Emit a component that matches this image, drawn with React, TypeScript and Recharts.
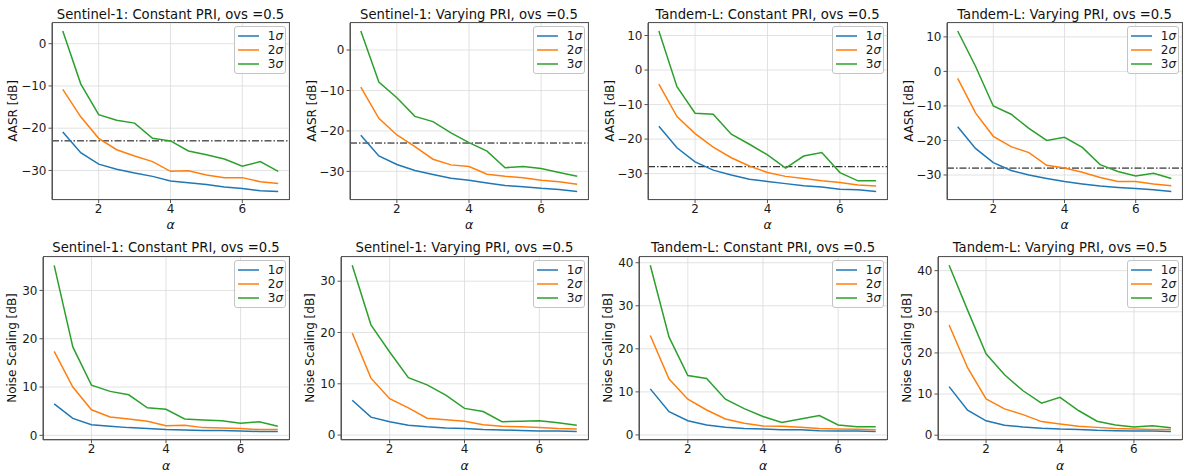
import {
    LineChart,
    Line,
    XAxis,
    YAxis,
    CartesianGrid,
    ReferenceLine,
    Legend,
} from "recharts";

const ALPHA = [1, 1.5, 2, 2.5, 3, 3.5, 4, 4.5, 5, 5.5, 6, 6.5, 7];
const X_TICKS = [2, 4, 6];
const SIGMA_LABELS = ["1σ", "2σ", "3σ"];

// AASR [dB]
const S1_CONST_AASR_1 = [-20.9, -25.8, -28.5, -29.7, -30.6, -31.4, -32.5, -32.9, -33.3, -33.9, -34.3, -34.8, -35.0];
const S1_CONST_AASR_2 = [-10.8, -17.3, -22.4, -25.1, -26.6, -27.9, -30.2, -30.1, -31.1, -31.7, -31.7, -32.7, -33.1];
const S1_CONST_AASR_3 = [3.0, -9.5, -16.8, -18.1, -18.8, -22.4, -23.0, -25.4, -26.3, -27.3, -29.0, -27.9, -30.2];

const S1_VAR_AASR_1 = [-21.1, -26.2, -28.3, -29.8, -30.8, -31.7, -32.2, -32.9, -33.5, -33.8, -34.2, -34.5, -35.0];
const S1_VAR_AASR_2 = [-9.2, -16.9, -21.0, -23.9, -27.0, -28.4, -28.8, -30.7, -31.2, -31.6, -32.2, -32.6, -33.2];
const S1_VAR_AASR_3 = [4.7, -7.9, -11.8, -16.4, -17.7, -20.5, -22.9, -25.0, -29.1, -28.8, -29.3, -30.3, -31.2];

const TL_CONST_AASR_1 = [-16.3, -22.5, -26.6, -29.0, -30.4, -31.6, -32.3, -32.9, -33.5, -33.9, -34.5, -34.7, -35.2];
const TL_CONST_AASR_2 = [-4.1, -13.5, -18.4, -22.3, -25.4, -27.8, -29.7, -30.8, -31.4, -32.1, -32.6, -33.3, -33.6];
const TL_CONST_AASR_3 = [11.3, -4.8, -12.5, -12.8, -18.6, -21.5, -24.6, -28.4, -24.9, -23.9, -29.7, -32.1, -32.1];

const TL_VAR_AASR_1 = [-16.0, -22.3, -26.4, -28.7, -30.0, -31.0, -31.9, -32.6, -33.2, -33.6, -33.9, -34.3, -34.8];
const TL_VAR_AASR_2 = [-2.0, -12.0, -18.8, -21.8, -23.5, -27.2, -28.0, -29.2, -30.7, -31.9, -31.9, -32.6, -33.1];
const TL_VAR_AASR_3 = [11.7, 1.5, -10.0, -12.4, -16.5, -20.0, -19.1, -22.0, -27.0, -29.0, -30.3, -29.5, -31.0];

// Noise scaling [dB]
const S1_CONST_NS_1 = [6.5, 3.5, 2.2, 1.9, 1.6, 1.4, 1.2, 1.1, 1.0, 1.0, 0.9, 0.8, 0.8];
const S1_CONST_NS_2 = [17.4, 10.0, 5.3, 3.8, 3.4, 2.9, 2.0, 2.1, 1.6, 1.5, 1.4, 1.2, 1.2];
const S1_CONST_NS_3 = [35.2, 18.3, 10.4, 9.1, 8.4, 5.7, 5.4, 3.4, 3.2, 3.0, 2.5, 2.8, 1.9];

const S1_VAR_NS_1 = [6.8, 3.5, 2.6, 1.9, 1.6, 1.4, 1.3, 1.1, 1.0, 0.9, 0.8, 0.8, 0.7];
const S1_VAR_NS_2 = [19.9, 11.1, 7.1, 5.3, 3.3, 3.0, 2.7, 2.0, 1.7, 1.6, 1.5, 1.3, 1.2];
const S1_VAR_NS_3 = [33.1, 21.5, 16.2, 11.2, 9.8, 7.8, 5.2, 4.6, 2.6, 2.7, 2.8, 2.4, 1.9];

const TL_CONST_NS_1 = [10.7, 5.4, 3.3, 2.3, 1.8, 1.5, 1.4, 1.2, 1.2, 1.0, 0.9, 0.9, 0.8];
const TL_CONST_NS_2 = [23.1, 13.0, 8.3, 5.8, 3.7, 2.7, 2.1, 2.0, 1.8, 1.5, 1.4, 1.3, 1.2];
const TL_CONST_NS_3 = [39.4, 22.7, 13.8, 13.1, 8.3, 6.1, 4.3, 2.9, 3.7, 4.5, 2.3, 1.9, 1.9];

const TL_VAR_NS_1 = [11.8, 6.1, 3.5, 2.4, 2.0, 1.7, 1.5, 1.4, 1.2, 1.1, 1.0, 1.0, 0.9];
const TL_VAR_NS_2 = [26.8, 16.4, 8.8, 6.4, 5.0, 3.3, 2.7, 2.2, 1.9, 1.6, 1.5, 1.4, 1.4];
const TL_VAR_NS_3 = [41.3, 30.4, 19.8, 14.7, 10.8, 7.8, 9.2, 6.0, 3.4, 2.5, 2.0, 2.3, 1.8];

const S1_AASR_TICKS = [-30, -20, -10, 0];
const TL_AASR_TICKS = [-30, -20, -10, 0, 10];
const S1_NS_TICKS = [0, 10, 20, 30];
const TL_NS_TICKS = [0, 10, 20, 30, 40];

const S1_THRESHOLD = -23;
const TL_THRESHOLD = -28;

const COLORS = ["#1f77b4", "#ff7f0e", "#2ca02c"];

const TOP = { t: 22.7, b: 199.3, titleY: 14, xlabelY: 224 };
const BOTTOM = { t: 256.5, b: 439.3, titleY: 247, xlabelY: 465 };

const PANELS = [
    { title: "Sentinel-1: Constant PRI, ovs =0.5", ylabel: "AASR [dB]", series: [S1_CONST_AASR_1, S1_CONST_AASR_2, S1_CONST_AASR_3], ticks: S1_AASR_TICKS, threshold: S1_THRESHOLD, row: TOP, l: 52, r: 289, ylabelX: 13 },
    { title: "Sentinel-1: Varying PRI, ovs =0.5", ylabel: "AASR [dB]", series: [S1_VAR_AASR_1, S1_VAR_AASR_2, S1_VAR_AASR_3], ticks: S1_AASR_TICKS, threshold: S1_THRESHOLD, row: TOP, l: 350, r: 588, ylabelX: 312 },
    { title: "Tandem-L: Constant PRI, ovs =0.5", ylabel: "AASR [dB]", series: [TL_CONST_AASR_1, TL_CONST_AASR_2, TL_CONST_AASR_3], ticks: TL_AASR_TICKS, threshold: TL_THRESHOLD, row: TOP, l: 648, r: 887, ylabelX: 610 },
    { title: "Tandem-L: Varying PRI, ovs =0.5", ylabel: "AASR [dB]", series: [TL_VAR_AASR_1, TL_VAR_AASR_2, TL_VAR_AASR_3], ticks: TL_AASR_TICKS, threshold: TL_THRESHOLD, row: TOP, l: 947, r: 1182, ylabelX: 909 },
    { title: "Sentinel-1: Constant PRI, ovs =0.5", ylabel: "Noise Scaling [dB]", series: [S1_CONST_NS_1, S1_CONST_NS_2, S1_CONST_NS_3], ticks: S1_NS_TICKS, row: BOTTOM, l: 43, r: 289, ylabelX: 12 },
    { title: "Sentinel-1: Varying PRI, ovs =0.5", ylabel: "Noise Scaling [dB]", series: [S1_VAR_NS_1, S1_VAR_NS_2, S1_VAR_NS_3], ticks: S1_NS_TICKS, row: BOTTOM, l: 341, r: 588, ylabelX: 310 },
    { title: "Tandem-L: Constant PRI, ovs =0.5", ylabel: "Noise Scaling [dB]", series: [TL_CONST_NS_1, TL_CONST_NS_2, TL_CONST_NS_3], ticks: TL_NS_TICKS, row: BOTTOM, l: 639, r: 887, ylabelX: 608 },
    { title: "Tandem-L: Varying PRI, ovs =0.5", ylabel: "Noise Scaling [dB]", series: [TL_VAR_NS_1, TL_VAR_NS_2, TL_VAR_NS_3], ticks: TL_NS_TICKS, row: BOTTOM, l: 938, r: 1182, ylabelX: 907 },
];

const PADL = 42;
const PADT = 6;
const PADR = 2;
const PADB = 22;

const xMin = Math.min(...ALPHA);
const xMax = Math.max(...ALPHA);
const X_DOMAIN = [xMin - (xMax - xMin) * 0.05, xMax + (xMax - xMin) * 0.05];

const fmtTick = (v: number) => String(v).replace("-", "\u2212");

const SPINE = "#555";
const TICK_STYLE = { fill: "#1a1a1a", fontSize: 12 };

function SigmaLegend() {
    return (
        <div
            style={{
                background: "rgba(255,255,255,0.85)",
                border: "1px solid #c4c4c4",
                borderRadius: 3,
                padding: "2px 2px 2px 3px",
                fontSize: 12,
                lineHeight: "14px",
                color: "#1a1a1a",
                width: 45,
            }}
        >
            {SIGMA_LABELS.map((s, i) => (
                <div key={s} style={{ display: "flex", alignItems: "center", height: 14 }}>
                    <svg width={21} height={4} style={{ marginRight: 9, display: "block" }}>
                        <line x1={0} y1={2} x2={21} y2={2} stroke={COLORS[i]} strokeWidth={1.5} />
                    </svg>
                    <span>
                        {s[0]}
                        <i>{s.slice(1)}</i>
                    </span>
                </div>
            ))}
        </div>
    );
}

function Panel({ p }: { p: any }) {
    const { l, r } = p;
    const { t, b } = p.row;
    const w = r - l;
    const h = b - t;
    const data = ALPHA.map((a, i) => ({
        alpha: a,
        s1: p.series[0][i],
        s2: p.series[1][i],
        s3: p.series[2][i],
    }));
    const all = p.series.flat();
    const lo = Math.min(...all);
    const hi = Math.max(...all);
    const pad = (hi - lo) * 0.05;
    const yDomain = [lo - pad, hi + pad];

    return (
        <>
            <div
                style={{
                    position: "absolute",
                    left: (l + r) / 2,
                    top: p.row.titleY,
                    transform: "translate(-50%, -50%)",
                    fontSize: 13.2,
                    whiteSpace: "nowrap",
                    color: "#111",
                }}
            >
                {p.title}
            </div>
            <div
                style={{
                    position: "absolute",
                    left: p.ylabelX,
                    top: (t + b) / 2,
                    transform: "translate(-50%, -50%) rotate(-90deg)",
                    fontSize: 12,
                    whiteSpace: "nowrap",
                    color: "#111",
                }}
            >
                {p.ylabel}
            </div>
            <div
                style={{
                    position: "absolute",
                    left: (l + r) / 2,
                    top: p.row.xlabelY,
                    transform: "translate(-50%, -50%)",
                    fontSize: 12.5,
                    fontStyle: "italic",
                    color: "#111",
                }}
            >
                α
            </div>
            <div style={{ position: "absolute", left: l - PADL, top: t - PADT }}>
                <LineChart
                    width={w + PADL + PADR}
                    height={h + PADT + PADB}
                    data={data}
                    margin={{ top: PADT, right: PADR, bottom: 0, left: 0 }}
                >
                    <CartesianGrid stroke="#dadada" strokeWidth={0.8} />
                    <XAxis
                        dataKey="alpha"
                        type="number"
                        domain={X_DOMAIN}
                        ticks={X_TICKS}
                        height={PADB}
                        tickSize={3.5}
                        tickMargin={1}
                        stroke={SPINE}
                        tick={TICK_STYLE}
                        allowDataOverflow
                    />
                    <YAxis
                        type="number"
                        domain={yDomain}
                        ticks={p.ticks}
                        width={PADL}
                        tickSize={3.5}
                        tickMargin={2}
                        stroke={SPINE}
                        tick={TICK_STYLE}
                        tickFormatter={fmtTick}
                        allowDataOverflow
                    />
                    {p.threshold !== undefined && (
                        <ReferenceLine y={p.threshold} stroke="#000" strokeWidth={1} strokeDasharray="7 2 1.5 2" />
                    )}
                    {["s1", "s2", "s3"].map((k, i) => (
                        <Line
                            key={k}
                            dataKey={k}
                            name={SIGMA_LABELS[i]}
                            type="linear"
                            stroke={COLORS[i]}
                            strokeWidth={1.5}
                            dot={false}
                            isAnimationActive={false}
                        />
                    ))}
                    <Legend
                        layout="vertical"
                        align="center"
                        verticalAlign="middle"
                        wrapperStyle={{ left: PADL + w - 4 - 51, top: PADT + 3, width: 51, height: "auto" }}
                        content={() => <SigmaLegend />}
                    />
                </LineChart>
            </div>
            {/* axes frame (matplotlib spines) */}
            <div
                style={{
                    position: "absolute",
                    left: l - 0.5,
                    top: t - 0.5,
                    width: w + 1,
                    height: h + 1,
                    border: `1px solid ${SPINE}`,
                    boxSizing: "border-box",
                    pointerEvents: "none",
                }}
            />
        </>
    );
}

export default function App() {
    return (
        <div
            style={{
                position: "absolute",
                left: 0,
                top: 0,
                width: 1184,
                height: 472,
                background: "#fff",
                fontFamily: "'DejaVu Sans', sans-serif",
                overflow: "hidden",
            }}
        >
            {PANELS.map((p, i) => (
                <Panel key={i} p={p} />
            ))}
        </div>
    );
}
